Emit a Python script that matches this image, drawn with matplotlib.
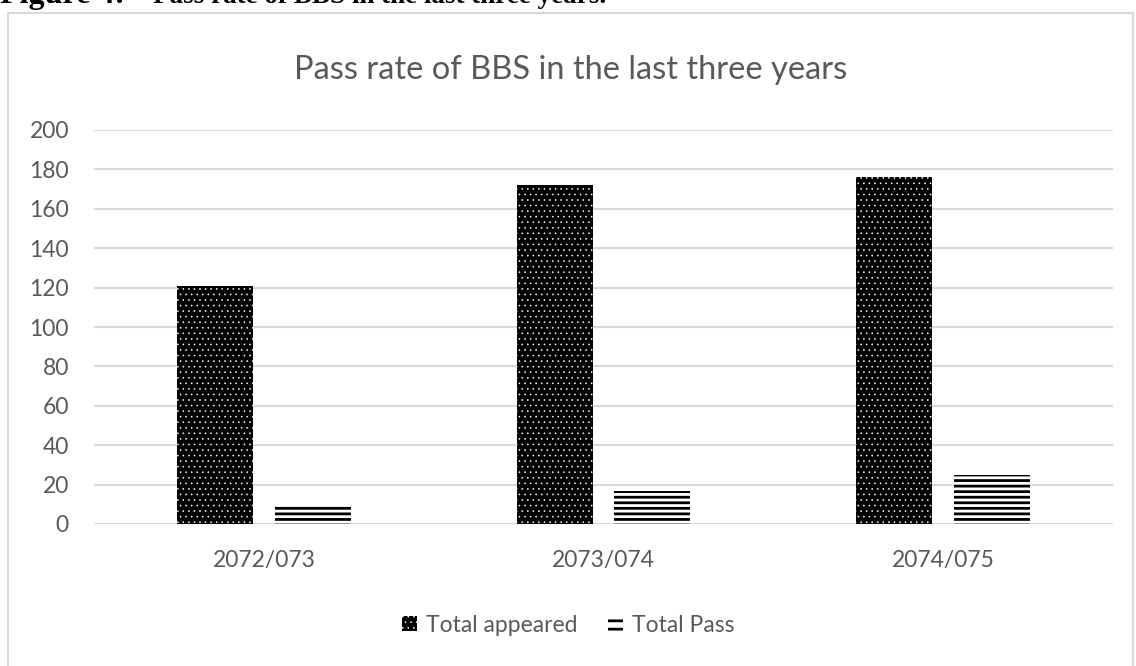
import numpy as np
import matplotlib
matplotlib.use("Agg")
import matplotlib.pyplot as plt
from matplotlib.patches import Rectangle

# data
years = ["2072/073", "2073/074", "2074/075"]
total_appeared = [121, 172, 176]
total_pass = [9, 17, 25]

grey_txt = "#595959"
grid_c = "#d9d9d9"

plt.rcParams['font.family'] = ['Lato', 'DejaVu Sans']

fig = plt.figure(figsize=(11.36, 6.66), dpi=100)
W, H = 1136, 666

# outer chart frame
fig.patches.append(Rectangle((8 / W, -0.01), 1125 / W, 1 - 13 / H + 0.01,
                             transform=fig.transFigure, fill=False,
                             edgecolor=grid_c, linewidth=1.5))

# caption, cut off at the top of the page
fig.text(0.0, 1 - 3 / H, "Figure 4:", family='Liberation Serif',
         fontweight='bold', fontsize=23, va='baseline', ha='left')
fig.text(153 / W, 1 - 3 / H, "Pass rate of BBS in the last three years.",
         family='Liberation Serif', fontweight='bold', fontsize=19.5,
         va='baseline', ha='left')

ax = fig.add_axes([94 / W, 1 - 524 / H, (1113 - 94) / W, (524 - 130) / H])
x = np.arange(len(years))
w = 0.224
off = 0.1435

with plt.rc_context({'hatch.linewidth': 0.4}):
    ax.bar(x - off, total_appeared, w, color='black', edgecolor='white',
           hatch='...', linewidth=0, label='Total appeared', zorder=2)
with plt.rc_context({'hatch.linewidth': 2.0}):
    ax.bar(x + off, total_pass, w, color='white', edgecolor='black',
           hatch='---', linewidth=0, label='Total Pass', zorder=2)

ax.set_xlim(-0.5, 2.5)
ax.set_ylim(0, 200)
ax.set_yticks(np.arange(0, 201, 20))
ax.set_xticks(x)
ax.set_xticklabels(years)
ax.yaxis.grid(True, color=grid_c, linewidth=1.5, zorder=0)
ax.set_axisbelow(True)
for s in ax.spines.values():
    s.set_visible(False)
ax.tick_params(length=0, labelsize=16.5, colors=grey_txt)
ax.tick_params(axis='x', pad=19)
ax.tick_params(axis='y', pad=18)

fig.text(0.502, 1 - 70 / H, "Pass rate of BBS in the last three years",
         ha='center', va='center', fontsize=23.5, color=grey_txt)

with plt.rc_context({'hatch.linewidth': 2.0}):
    leg = fig.legend(loc='center', bbox_to_anchor=(0.50, 1 - 625 / H), ncol=2,
                     frameon=False, fontsize=16.5, handlelength=0.65,
                     handleheight=0.65, columnspacing=1.35, handletextpad=0.38)
for t in leg.get_texts():
    t.set_color(grey_txt)
hs = leg.legend_handles
if hasattr(hs[1], 'set_hatch_linewidth'):
    hs[0].set_hatch_linewidth(0.4)
    hs[1].set_hatch_linewidth(2.0)
hs[1].set_hatch('--')

fig.savefig("out.png", dpi=100)
